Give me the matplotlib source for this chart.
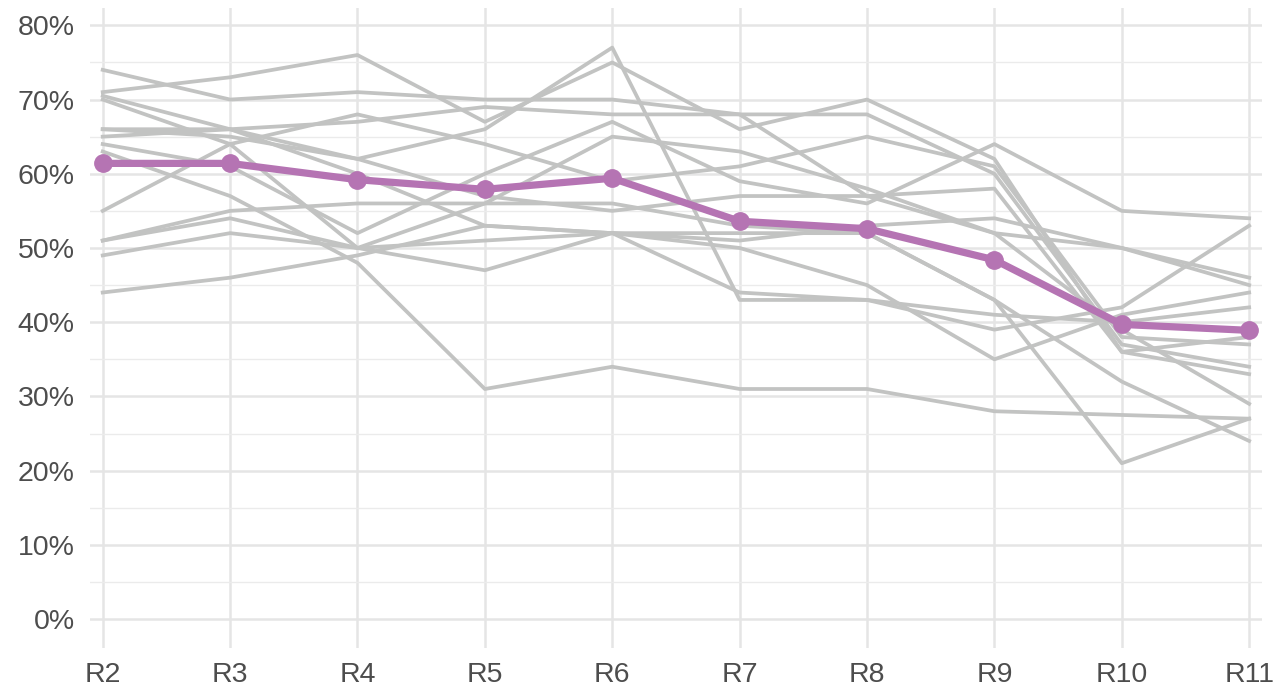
import matplotlib
matplotlib.use("Agg")
import matplotlib.pyplot as plt
from matplotlib.ticker import FuncFormatter, MultipleLocator

plt.rcParams['font.family'] = ['Liberation Sans', 'DejaVu Sans']

rounds = ["R2", "R3", "R4", "R5", "R6", "R7", "R8", "R9", "R10", "R11"]

# one list per grey line, share in % for R2..R11
line_01 = [74, 70, 71, 70, 70, 68, 68, 60, 37, 34]
line_02 = [71, 73, 76, 67, 75, 66, 70, 62, 36, 33]
line_03 = [70.5, 66, 62, 66, 77, 43, 43, 41, 40, 42]
line_04 = [70, 64, 68, 64, 59, 61, 65, 61, 38, 37]
line_05 = [66, 66, 67, 69, 68, 68, 57, 58, 36, 38]
line_06 = [66, 65, 62, 57, 55, 57, 57, 52, 50, 45]
line_07 = [65, 66, 60, 53, 52, 51, 53, 54, 50, 46]
line_08 = [64, 61, 52, 60, 67, 59, 56, 64, 55, 54]
line_09 = [63, 57, 48, 31, 34, 31, 31, 28, 27.5, 27]
line_10 = [55, 64, 50, 56, 65, 63, 58, 52, 39, 29]
line_11 = [51, 55, 56, 56, 56, 53, 52, 43, 32, 24]
line_12 = [51, 54, 50, 51, 52, 52, 52, 43, 21, 27]
line_13 = [49, 52, 50, 47, 52, 50, 45, 35, 41, 44]
line_14 = [44, 46, 49, 53, 52, 44, 43, 39, 42, 53]

grey_lines = [line_01, line_02, line_03, line_04, line_05, line_06, line_07,
              line_08, line_09, line_10, line_11, line_12, line_13, line_14]

# highlighted average line
average = [61.4, 61.4, 59.2, 57.9, 59.4, 53.6, 52.6, 48.4, 39.7, 38.9]

fig = plt.figure(figsize=(12.78, 6.89), dpi=100)
ax = fig.add_axes([0.0704, 0.0595, 0.917, 0.9285])

x = list(range(len(rounds)))
for vals in grey_lines:
    ax.plot(x, vals, color="#c2c3c2", lw=2.7, zorder=2)

ax.plot(x, average, color="#b574b3", lw=5.2, marker="o", markersize=12.5, zorder=3)

ax.set_xlim(-0.1, 9.1)
ax.set_ylim(-3.9, 82.3)
ax.set_xticks(x)
ax.set_xticklabels(rounds)
ax.yaxis.set_major_locator(MultipleLocator(10))
ax.yaxis.set_minor_locator(MultipleLocator(5))
ax.yaxis.set_major_formatter(FuncFormatter(lambda v, p: f"{v:.0f}%"))

ax.grid(which="major", color="#e5e5e5", lw=1.8, zorder=0)
ax.grid(which="minor", axis="y", color="#ebebeb", lw=1.0, zorder=0)
ax.set_axisbelow(True)
for s in ax.spines.values():
    s.set_visible(False)
ax.tick_params(which="both", length=0, labelsize=20.5, colors="#4d4d4d")
ax.tick_params(axis="x", pad=10)
ax.tick_params(axis="y", pad=11)

fig.savefig("out.png", dpi=100)
